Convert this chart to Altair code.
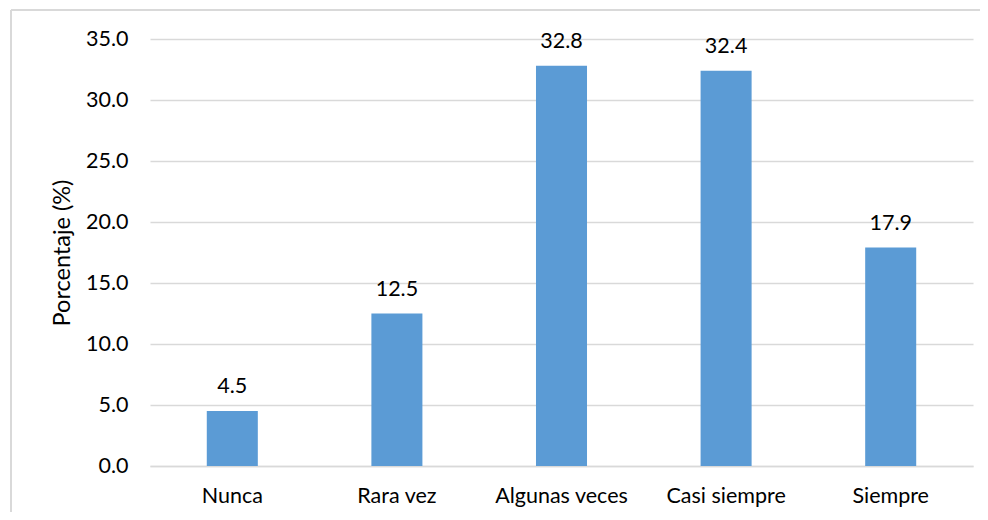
import altair as alt
import pandas as pd

categories = ["Nunca", "Rara vez", "Algunas veces", "Casi siempre", "Siempre"]
values = [4.5, 12.5, 32.8, 32.4, 17.9]
y_ticks = [0, 5, 10, 15, 20, 25, 30, 35]

df = pd.DataFrame({"cat": categories, "val": values})
FONT = "Lato"
FS = 21.5
W, H = 823, 427

x_enc = alt.X("cat:N", sort=categories,
              scale=alt.Scale(paddingInner=0.69, paddingOuter=0.345),
              axis=alt.Axis(title=None, labelAngle=0, labelPadding=19, ticks=False,
                            domain=True, domainColor="#D9D9D9", domainWidth=1.5,
                            labelFont=FONT, labelFontSize=FS, labelColor="#000000"))
y_enc = alt.Y("val:Q", scale=alt.Scale(domain=[0, 35], nice=False),
              axis=alt.Axis(title="Porcentaje (%)", values=y_ticks, format=".1f",
                            ticks=False, domain=False, grid=True, gridColor="#D9D9D9",
                            gridWidth=1.5, labelPadding=22, labelFont=FONT,
                            labelFontSize=FS, labelColor="#000000",
                            titleFont=FONT, titleFontSize=23.5, titleFontWeight="normal",
                            titleColor="#000000", titlePadding=11))

frame = pd.DataFrame({"a": [0]})
top_line = alt.Chart(frame).mark_rule(color="#D9D9D9", strokeWidth=2, clip=False).encode(
    x=alt.value(-139), x2=alt.value(W + 60), y=alt.value(-29))
left_line = alt.Chart(frame).mark_rule(color="#D9D9D9", strokeWidth=2, clip=False).encode(
    x=alt.value(-139), y=alt.value(-29), y2=alt.value(H + 100))

bars = alt.Chart(df).mark_bar(color="#5B9BD5").encode(x=x_enc, y=y_enc)
labels = alt.Chart(df).mark_text(dy=-24, font=FONT, fontSize=FS, color="#000000").encode(
    x=alt.X("cat:N", sort=categories), y="val:Q", text=alt.Text("val:Q", format=".1f"))

chart = alt.layer(top_line, left_line, bars, labels).properties(
    width=W, height=H,
    autosize=alt.AutoSizeParams(type="none"),
    padding={"left": 142, "top": 31, "right": 7, "bottom": 46},
).configure(background="#FFFFFF").configure_view(strokeWidth=0, stroke=None)

chart.save("out.html", embed_options={"renderer": "svg", "actions": False})
